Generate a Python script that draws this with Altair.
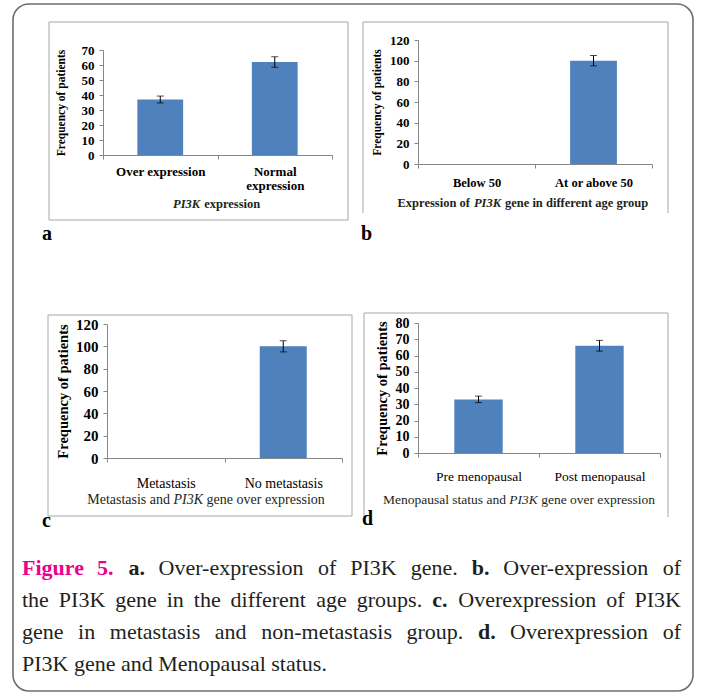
import altair as alt
import pandas as pd

# ---------------- data ----------------
a_cats = ["Over expression", "Normal expression"]
a_vals = [37, 62]
a_errs = [2.3, 3.5]

b_cats = ["Below 50", "At or above 50"]
b_vals = [0, 100]
b_errs = [None, 5]

c_cats = ["Metastasis", "No metastasis"]
c_vals = [0, 100]
c_errs = [None, 5]

d_cats = ["Pre menopausal", "Post menopausal"]
d_vals = [33, 66]
d_errs = [2, 3.3]

y_title = "Frequency of patients"

caption_lines = [
    [("Figure", "bm"), ("5.", "bm"), ("a.", "b"), ("Over-expression", "r"), ("of", "r"),
     ("PI3K", "r"), ("gene.", "r"), ("b.", "b"), ("Over-expression", "r"), ("of", "r")],
    [("the", "r"), ("PI3K", "r"), ("gene", "r"), ("in", "r"), ("the", "r"), ("different", "r"),
     ("age", "r"), ("groups.", "r"), ("c.", "b"), ("Overexpression", "r"), ("of", "r"), ("PI3K", "r")],
    [("gene", "r"), ("in", "r"), ("metastasis", "r"), ("and", "r"), ("non-metastasis", "r"),
     ("group.", "r"), ("d.", "b"), ("Overexpression", "r"), ("of", "r")],
    [("PI3K", "r"), ("gene", "r"), ("and", "r"), ("Menopausal", "r"), ("status.", "r")],
]

# ---------------- styling ----------------
FONT = "Liberation Serif"
BLUE = "#4F81BD"
GRAY = "#868686"
TXT = "#231F20"
MAGENTA = "#EC008C"
W, H = 701, 695

# approximate Times widths (em) for text layout
_w = {' ': .25, '.': .25, '-': .333, ',': .25}
for ch in "0123456789":
    _w[ch] = .5
_w.update(dict(a=.444, b=.5, c=.444, d=.5, e=.444, f=.333, g=.5, h=.5, i=.278, j=.278, k=.5,
               l=.278, m=.778, n=.5, o=.5, p=.5, q=.5, r=.333, s=.389, t=.278, u=.5, v=.5,
               w=.722, x=.5, y=.5, z=.444))
_w.update(dict(A=.722, B=.667, C=.667, D=.722, E=.611, F=.556, G=.722, H=.722, I=.333, J=.389,
               K=.722, L=.611, M=.889, N=.722, O=.722, P=.556, Q=.722, R=.667, S=.556, T=.611,
               U=.722, V=.722, W=.944, X=.722, Y=.722, Z=.611))


def tw(s, size, style):
    f = 1.06 if "b" in style else 1.0
    return sum(_w.get(ch, .5) for ch in s) * size * f


texts = []  # rows: text, x, y, size, style, color, baseline


def add_text(t, x, y, size, style, color=TXT, baseline="alphabetic"):
    texts.append(dict(t=t, x=x, y=y, s=size, st=style, c=color, bl=baseline))


def add_centered(segs, cx, y, size):
    gap = .25 * size
    widths = [tw(t, size, st) for t, st in segs]
    total = sum(widths) + gap * (len(segs) - 1)
    x = cx - total / 2
    for (t, st), wd in zip(segs, widths):
        add_text(t, x, y, size, st, baseline="middle")
        x += wd + gap


# caption (justified)
cap_left, cap_right, cap_size = 22, 681, 22
cap_y = [575, 607, 639, 671]
for i, line in enumerate(caption_lines):
    widths = [tw(t, cap_size, st) for t, st in line]
    if i < len(caption_lines) - 1:
        gap = (cap_right - cap_left - sum(widths)) / (len(line) - 1)
    else:
        gap = .25 * cap_size
    x = cap_left
    for (t, st), wd in zip(line, widths):
        if st == "bm":
            add_text(t, x, cap_y[i], cap_size, "b", MAGENTA)
        else:
            add_text(t, x, cap_y[i], cap_size, st)
        x += wd + gap

# panel x-axis titles with italic gene name
add_centered([("PI3K", "bi"), ("expression", "b")], 217, 204, 12.5)
add_centered([("Expression of", "b"), ("PI3K", "bi"), ("gene in different age group", "b")], 523, 203, 12.5)
add_centered([("Metastasis and", "r"), ("PI3K", "i"), ("gene over expression", "r")], 206, 500, 14)
add_centered([("Menopausal status and", "r"), ("PI3K", "i"), ("gene over expression", "r")], 519, 500, 13.5)

# panel letters
for letter, lx, ly in [("a", 42, 240), ("b", 361, 240), ("c", 42, 527), ("d", 362, 525)]:
    add_text(letter, lx, ly, 20, "b", "black")

tdf = pd.DataFrame(texts)


def text_layers():
    out = []
    for (st, bl), g in tdf.groupby(["st", "bl"]):
        out.append(
            alt.Chart(g).mark_text(
                font=FONT, align="left", baseline=bl,
                fontWeight="bold" if "b" in st else "normal",
                fontStyle="italic" if "i" in st else "normal",
            ).encode(
                x=alt.X("x:Q", scale=None), y=alt.Y("y:Q", scale=None),
                text="t:N", size=alt.Size("s:Q", scale=None),
                color=alt.Color("c:N", scale=None),
            )
        )
    return out


# panel frames (b and d are cut at the bottom in the original figure)
segs = [
    # a: full box
    (49, 348, 22, 22), (49, 348, 220, 220), (49, 49, 22, 220), (348, 348, 22, 220),
    # b: top, left, right
    (363, 668, 22, 22), (363, 363, 22, 213), (668, 668, 22, 213),
    # c: full box
    (48, 352, 315, 315), (48, 352, 516, 516), (48, 48, 315, 516), (352, 352, 315, 516),
    # d: top, left, right
    (364, 668, 313, 313), (364, 364, 313, 517), (668, 668, 313, 517),
]
frame_df = pd.DataFrame(segs, columns=["x", "x2", "y", "y2"])
frame_layer = alt.Chart(frame_df).mark_rule(color="#A6A6A6", strokeWidth=1).encode(
    x=alt.X("x:Q", scale=None), x2="x2:Q", y=alt.Y("y:Q", scale=None), y2="y2:Q")
outer = pd.DataFrame([dict(x=13, x2=693, y=4, y2=691)])
outer_layer = alt.Chart(outer).mark_rect(fill="white", fillOpacity=0, stroke="#6d6d6d",
                                         strokeWidth=1.6, cornerRadius=16).encode(
    x=alt.X("x:Q", scale=None), x2="x2:Q", y=alt.Y("y:Q", scale=None), y2="y2:Q")


def panel(cats, vals, errs, ymax, ystep, xr, yr, tick_fs, cat_fs, cat_w, title_fs, title_x,
          label_pad, label_expr=None):
    df = pd.DataFrame({"cat": cats, "val": vals, "err": errs})
    de = df.dropna().copy()
    de["lo"] = de["val"] - de["err"]
    de["hi"] = de["val"] + de["err"]
    caps = pd.concat([de[["cat", "lo"]].rename(columns={"lo": "v"}),
                      de[["cat", "hi"]].rename(columns={"hi": "v"})])

    xscale = alt.Scale(domain=cats, range=xr, paddingInner=0, paddingOuter=0)
    yscale = alt.Scale(domain=[0, ymax], range=yr, nice=False, zero=True)
    xaxis_kw = dict(orient="bottom", offset=yr[0] - H, tickBand="extent", tickSize=4,
                    tickColor=GRAY, domainColor=GRAY, labelFont=FONT, labelFontSize=cat_fs,
                    labelFontWeight=cat_w, labelColor="black", labelAngle=0,
                    labelPadding=label_pad, labelLineHeight=cat_fs + 1, title=None, grid=False,
                    zindex=1)
    if label_expr:
        xaxis_kw["labelExpr"] = label_expr
    yaxis = alt.Axis(orient="left", offset=-xr[0], values=list(range(0, ymax + 1, ystep)),
                     tickSize=4, tickColor=GRAY, domainColor=GRAY, labelFont=FONT,
                     labelFontSize=tick_fs, labelFontWeight="bold", labelColor="black",
                     labelPadding=5, grid=False, title=y_title, titleFont=FONT,
                     titleFontSize=title_fs, titleFontWeight="bold", titleColor="black",
                     titleX=title_x, titleBaseline="middle", zindex=1)
    bars = alt.Chart(df).mark_bar(color=BLUE, width=alt.RelativeBandSize(0.4)).encode(
        x=alt.X("cat:N", scale=xscale, axis=alt.Axis(**xaxis_kw)),
        y=alt.Y("val:Q", scale=yscale, axis=yaxis),
    )
    rule = alt.Chart(de).mark_rule(color="black", strokeWidth=1).encode(
        x=alt.X("cat:N"), y=alt.Y("lo:Q"), y2="hi:Q")
    ticks = alt.Chart(caps).mark_tick(color="black", size=7, thickness=1).encode(
        x=alt.X("cat:N"), y=alt.Y("v:Q"))
    return alt.layer(bars, rule, ticks)


pa = panel(a_cats, a_vals, a_errs, 70, 10, [103, 332], [155, 50], 13, 13, "bold", 11.5, -42, 6,
           "datum.label == 'Normal expression' ? ['Normal', 'expression'] : datum.label")
pb = panel(b_cats, b_vals, b_errs, 120, 20, [418, 652], [164, 40], 13, 12.5, "bold", 11.5, -41, 8)
pc = panel(c_cats, c_vals, c_errs, 120, 20, [107, 342], [458, 324], 15, 14, "normal", 14.5, -44, 14)
pd_ = panel(d_cats, d_vals, d_errs, 80, 10, [418, 660], [453, 323], 14, 13.5, "normal", 14.5, -36, 12)

chart = alt.layer(
    outer_layer, frame_layer, pa, pb, pc, pd_, *text_layers()
).resolve_scale(
    x="independent", y="independent", size="independent", color="independent"
).resolve_axis(
    x="independent", y="independent"
).properties(
    width=W, height=H, autosize=alt.AutoSizeParams(type="none"), padding=0, background="white"
).configure_view(stroke=None)

chart.save("out.html", embed_options={"renderer": "svg", "actions": False})
